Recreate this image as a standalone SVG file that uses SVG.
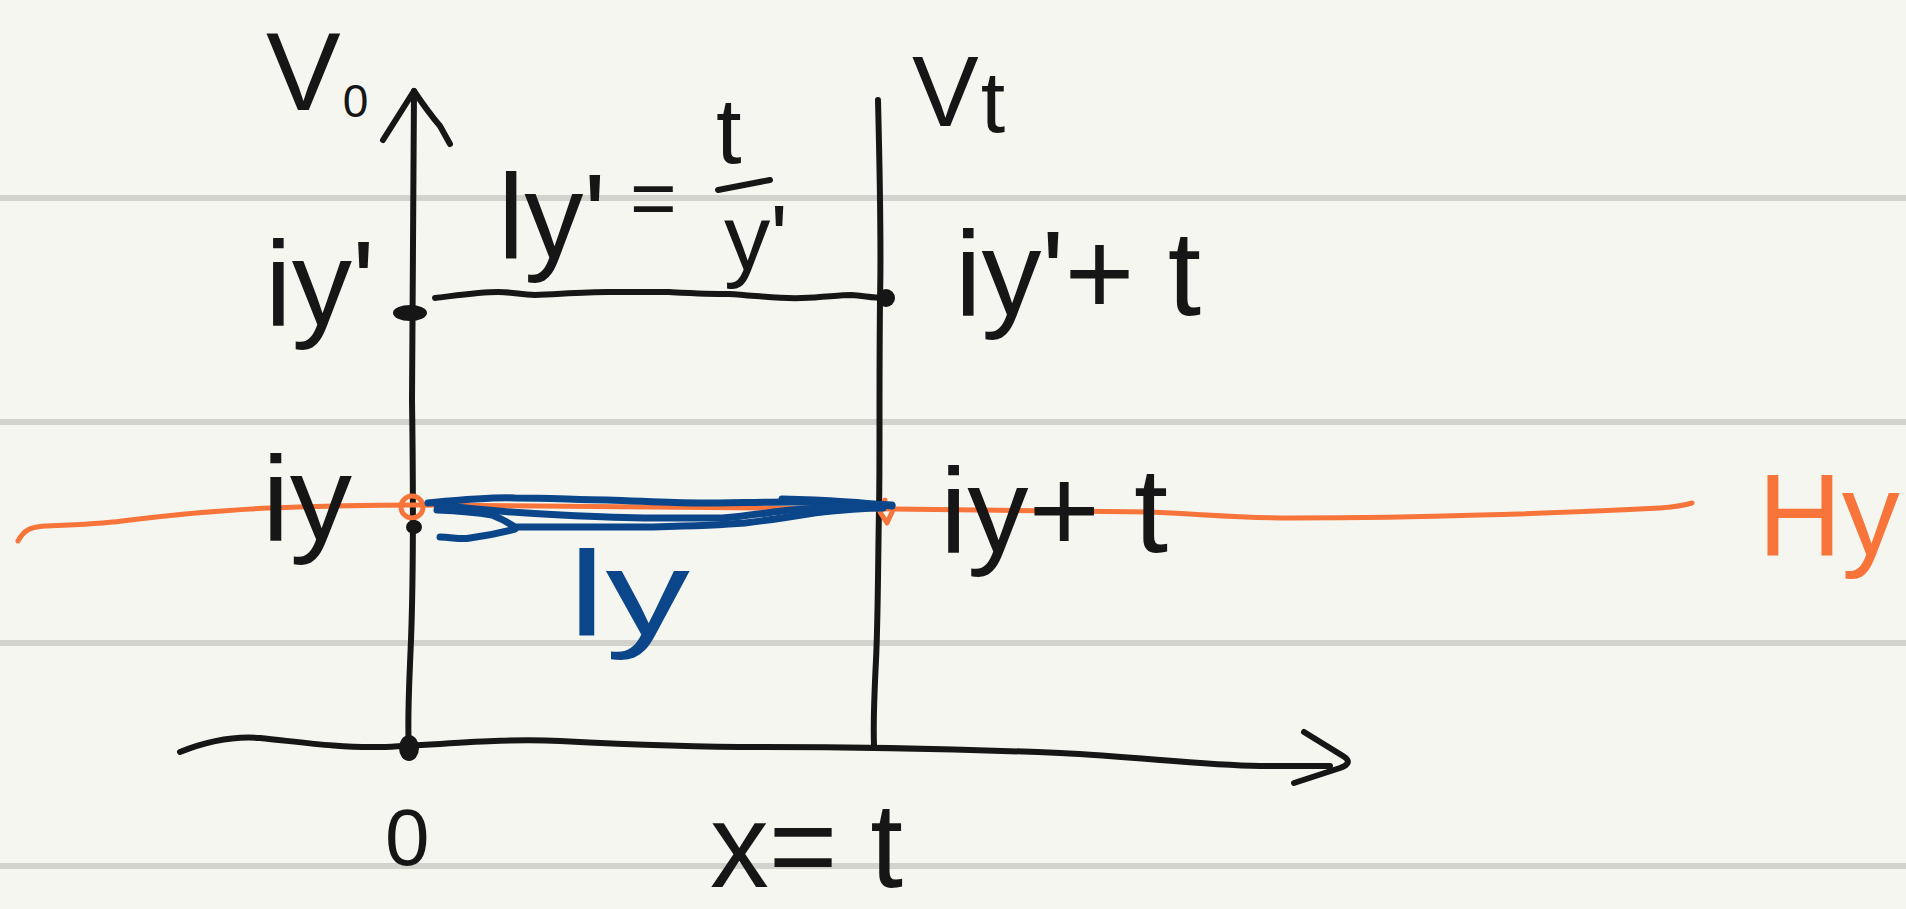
<svg xmlns="http://www.w3.org/2000/svg" width="1906" height="909" viewBox="0 0 1906 909">
<style>
.rule{stroke:#d3d3cd;stroke-width:6;fill:none}
.ink{stroke:#161616;stroke-width:6;fill:none;stroke-linecap:round;stroke-linejoin:round}
.blue{stroke:#0b468a;stroke-width:7;fill:none;stroke-linecap:round;stroke-linejoin:round}
.orange{stroke:#f7743a;stroke-width:5;fill:none;stroke-linecap:round;stroke-linejoin:round}
text{font-family:"Liberation Sans","DejaVu Sans",sans-serif;fill:#161616}
.tb{fill:#0b468a}
.to{fill:#f7743a}
</style>
<rect width="1906" height="909" fill="#f6f6f1"/>
<g id="ruled-lines">
<line class="rule" x1="0" y1="198" x2="1906" y2="198"/>
<line class="rule" x1="0" y1="422" x2="1906" y2="422"/>
<line class="rule" x1="0" y1="643" x2="1906" y2="643"/>
<line class="rule" x1="0" y1="866" x2="1906" y2="866"/>
</g>
<g id="connectors">
<path id="axis-v0" class="ink" d="M414,91 C413,200 412,300 412,400 C413,470 414,560 411,640 C409,690 407,720 409,750"/>
<path id="axis-v0-head" class="ink" d="M383,140 L414,91 Q428,112 440,126 L450,144"/>
<path id="line-vt" class="ink" stroke-width="5" d="M878,100 C880,180 881,260 880,300 C879,400 880,460 879,510 C878,560 878,620 876,660 C874,700 873,720 874,745"/>
<path id="axis-x" class="ink" d="M180,752 C210,740 235,736 260,738 C300,742 340,748 380,747 C440,745 500,738 560,741 C620,744 680,747 760,747 C860,747 960,749 1060,753 C1140,757 1200,765 1260,766 L1330,766"/>
<path id="axis-x-head" class="ink" d="M1304,732 L1343,756 Q1354,763 1340,768 L1294,783"/>
<path id="line-ly-prime" class="ink" d="M435,298 C460,295 480,292 498,292 C515,292 520,295 535,295 C560,294 585,292 608,292 C630,292 650,292 669,292 C690,293 710,294 729,294 C760,296 780,299 802,298 C825,297 840,295 851,295 C865,296 872,298 884,298"/>
<path id="h-line" class="orange" d="M18,541 C24,530 30,527 45,526 C70,525 100,524 122,521 C170,515 220,510 270,508 C320,506 370,505 413,505 C560,507 720,508 893,509 C980,510 1060,511 1150,512 C1200,514 1240,518 1290,518 C1350,518 1420,517 1480,515 C1560,513 1620,510 1660,508 C1675,507 1685,505 1692,503"/>
<path class="orange" d="M885,500 L880,512 L887,523 L893,510"/>
<circle class="orange" cx="412" cy="507" r="11"/>
<g id="line-ly">
<path class="blue" d="M428,503 C460,500 490,497 515,498 C550,498 580,500 607,500 C640,501 670,503 699,503 C730,503 760,502 791,502 C830,502 860,504 892,505"/>
<path class="blue" d="M437,505 C480,510 520,513 561,515 C600,517 630,518 653,518 C680,518 700,518 722,518 C750,516 770,512 791,510 C830,507 860,506 883,505"/>
<path class="blue" d="M437,510 C460,511 480,513 492,515 C505,520 510,524 515,527 C560,527 610,527 653,527 C690,526 720,525 745,523 C770,520 795,516 814,513 C840,510 865,508 883,508"/>
<path class="blue" stroke-width="5" d="M515,529 C500,533 485,536 470,538 C460,540 452,537 440,537"/>
<path class="blue" stroke-width="9" d="M782,499 C820,500 860,502 892,506"/>
</g>
<ellipse cx="410" cy="313" rx="17" ry="8" fill="#161616"/>
<circle cx="886" cy="298" r="9" fill="#161616"/>
<ellipse cx="414" cy="527" rx="8" ry="7" fill="#161616"/>
<ellipse cx="409" cy="748" rx="10" ry="13" fill="#161616"/>
</g>
<g id="label-v0">
<text x="266" y="110" font-size="112">V<tspan dx="2" dy="7" font-size="46">0</tspan></text>
</g>
<g id="label-vt">
<text x="912" y="126" font-size="100">V<tspan dx="2" dy="6" font-size="88">t</tspan></text>
</g>
<g id="label-iy-prime">
<text x="265" y="325" font-size="120" textLength="110" lengthAdjust="spacingAndGlyphs">iy'</text>
</g>
<g id="label-iy">
<text x="262" y="540" font-size="120" textLength="90" lengthAdjust="spacingAndGlyphs">iy</text>
</g>
<g id="label-ly-prime">
<text x="498" y="258" font-size="120" textLength="108" lengthAdjust="spacingAndGlyphs">ly'</text>
<text x="630" y="225" font-size="80">=</text>
<text x="716" y="163" font-size="92">t</text>
<path class="ink" d="M718,190 L770,180"/>
<text x="724" y="270" font-size="92" textLength="64" lengthAdjust="spacingAndGlyphs">y'</text>
</g>
<g id="label-iy-prime-t">
<text x="955" y="315" font-size="120" textLength="246" lengthAdjust="spacingAndGlyphs">iy'+ t</text>
</g>
<g id="label-iy-t">
<text x="940" y="552" font-size="120" textLength="228" lengthAdjust="spacingAndGlyphs">iy+ t</text>
</g>
<g id="label-ly">
<text class="tb" x="568" y="635" font-size="120" textLength="122" lengthAdjust="spacingAndGlyphs">ly</text>
</g>
<g id="label-hy">
<text class="to" x="1758" y="555" font-size="116">Hy</text>
</g>
<g id="label-0">
<text x="385" y="865" font-size="80">0</text>
</g>
<g id="label-x-t">
<text x="710" y="887" font-size="120" textLength="193" lengthAdjust="spacingAndGlyphs">x= t</text>
</g>
</svg>
